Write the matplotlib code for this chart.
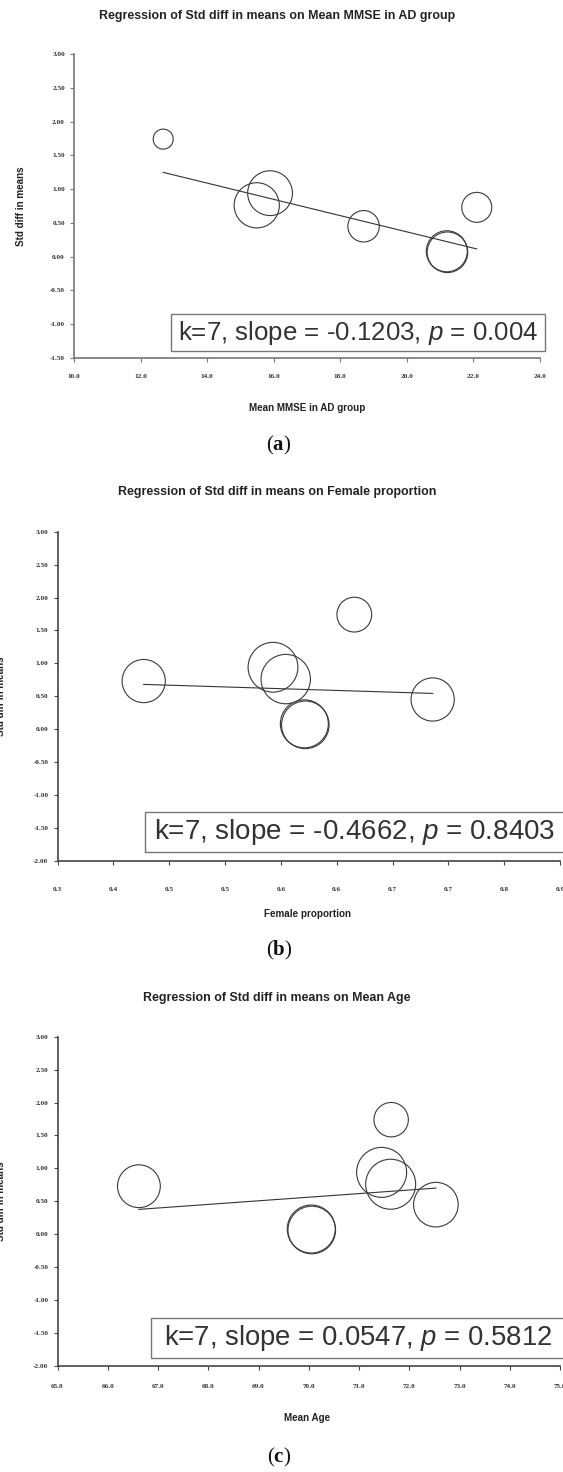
import numpy as np
import matplotlib.pyplot as plt
from matplotlib.patches import Rectangle

plt.rcParams['font.family'] = ['Liberation Sans', 'DejaVu Sans']
plt.rcParams['mathtext.fontset'] = 'custom'
plt.rcParams['mathtext.it'] = 'Liberation Sans:italic'
plt.rcParams['mathtext.bf'] = 'Liberation Serif:bold'
plt.rcParams['mathtext.rm'] = 'Liberation Serif'

# seven studies (two overlap almost exactly)
smd = [1.74, 0.94, 0.76, 0.45, 0.08, 0.065, 0.73]
mmse = [12.68, 15.89, 15.49, 18.70, 21.20, 21.22, 22.10]
female = [0.643, 0.560, 0.573, 0.723, 0.592, 0.593, 0.428]
age = [71.64, 71.45, 71.63, 72.53, 70.05, 70.06, 66.62]

# bubble sizes (relative study weight in each model)
bubble_a = [10.0, 22.4, 22.6, 15.7, 20.5, 20.3, 15.0]
bubble_b = [17.4, 24.9, 24.7, 21.6, 24.0, 23.8, 21.6]
bubble_c = [17.2, 25.0, 25.0, 22.3, 24.0, 23.8, 21.4]

slopes = [-0.1203, -0.4662, 0.0547]
intercepts = [2.773, 0.879, -3.266]
p_values = ['0.004', '0.8403', '0.5812']

W, H = 563, 1472
fig = plt.figure(figsize=(W / 100, H / 100), dpi=100)


def fx(x):
    return x / W


def fy(y):
    return 1 - y / H


def panel(box, x, bubbles, slope, icpt, xlim, xticks, ylim, title, xlabel,
          tag, pval, lab_pad, spine_col, title_y, xlab_y, tag_y, ylab_x,
          txt_box, txt_x, txt_size):
    l, t, r, b = box
    ax = fig.add_axes([fx(l), fy(b), (r - l) / W, (b - t) / H])
    s = [(1.44 * v) ** 2 for v in bubbles]
    ax.scatter(x, smd, s=s, facecolors='none', edgecolors='#3a3a3a',
               linewidths=0.8, zorder=3)
    xs = np.array([min(x), max(x)])
    ax.plot(xs, icpt + slope * xs, color='#333333', lw=0.8)
    ax.set_xlim(xlim)
    ax.set_ylim(ylim)
    ax.set_xticks(xticks)
    ax.set_xticklabels(['%.1f' % v for v in xticks])
    yt = np.arange(ylim[0], ylim[1] + 0.01, 0.5)
    ax.set_yticks(yt)
    ax.set_yticklabels(['%.2f' % v for v in yt])
    for side in ['top', 'right']:
        ax.spines[side].set_visible(False)
    for side in ['left', 'bottom']:
        ax.spines[side].set_color(spine_col)
        ax.spines[side].set_linewidth(1.2)
    ax.tick_params(axis='both', length=3, width=0.8, color=spine_col,
                   labelsize=5.2, labelcolor='#333333')
    ax.tick_params(axis='x', pad=lab_pad)
    ax.tick_params(axis='y', pad=3.5)
    for lab in ax.get_xticklabels() + ax.get_yticklabels():
        lab.set_family('Liberation Serif')
        lab.set_weight('bold')
    ax.patch.set_alpha(0)

    fig.text(fx(277), fy(title_y), title, ha='center', va='center',
             fontsize=8.9, weight='bold', color='#222222')
    fig.text(fx(307), fy(xlab_y), xlabel, ha='center', va='center',
             fontsize=7.1, weight='bold', color='#222222')
    fig.text(fx(ylab_x), fy((t + b) / 2), 'Std diff in means', ha='center',
             va='center', rotation=90, fontsize=7.1, weight='bold',
             color='#222222')
    fig.text(fx(279), fy(tag_y), '(' + r'$\mathbf{' + tag + '}$' + ')',
             ha='center', va='center', fontsize=15, family='Liberation Serif',
             color='#111111')

    bx0, by0, bx1, by1 = txt_box
    fig.patches.append(Rectangle((fx(bx0), fy(by1)), (bx1 - bx0) / W,
                                 (by1 - by0) / H, transform=fig.transFigure,
                                 fill=False, edgecolor='#777777', lw=1.0))
    sgn = '-' if slope < 0 else ''
    fig.text(fx(txt_x), fy((by0 + by1) / 2),
             'k=7, slope = %s%.4f, $p$ = %s' % (sgn, abs(slope), pval),
             ha='left', va='center', fontsize=txt_size, color='#333333')
    return ax


panel((74, 54, 540, 358), mmse, bubble_a, slopes[0], intercepts[0],
      (10, 24), np.arange(10, 24.1, 2), (-1.5, 3.0),
      'Regression of Std diff in means on Mean MMSE in AD group',
      'Mean MMSE in AD group', 'a', p_values[0], 8.5, '#777777',
      16, 408, 445, 21.5, (170.6, 314.3, 544.7, 351.0), 178.5, 18.6)

panel((57.5, 531.7, 560, 860.7), female, bubble_b, slopes[1], intercepts[1],
      (0.34, 0.853), 0.34 + 0.057 * np.arange(10), (-2.0, 3.0),
      'Regression of Std diff in means on Female proportion',
      'Female proportion', 'b', p_values[1], 16.0, '#444444',
      492, 914, 950, 1.5, (145.4, 812.3, 575, 852.0), 154.0, 20.0)

panel((57.5, 1036.7, 560, 1366), age, bubble_c, slopes[2], intercepts[2],
      (65, 75), np.arange(65, 75.1, 1), (-2.0, 3.0),
      'Regression of Std diff in means on Mean Age',
      'Mean Age', 'c', p_values[2], 10.3, '#444444',
      998, 1418, 1457, 1.5, (150.8, 1318.3, 575, 1358.3), 164.0, 19.8)

fig.savefig('out.png', dpi=100, facecolor='white')
